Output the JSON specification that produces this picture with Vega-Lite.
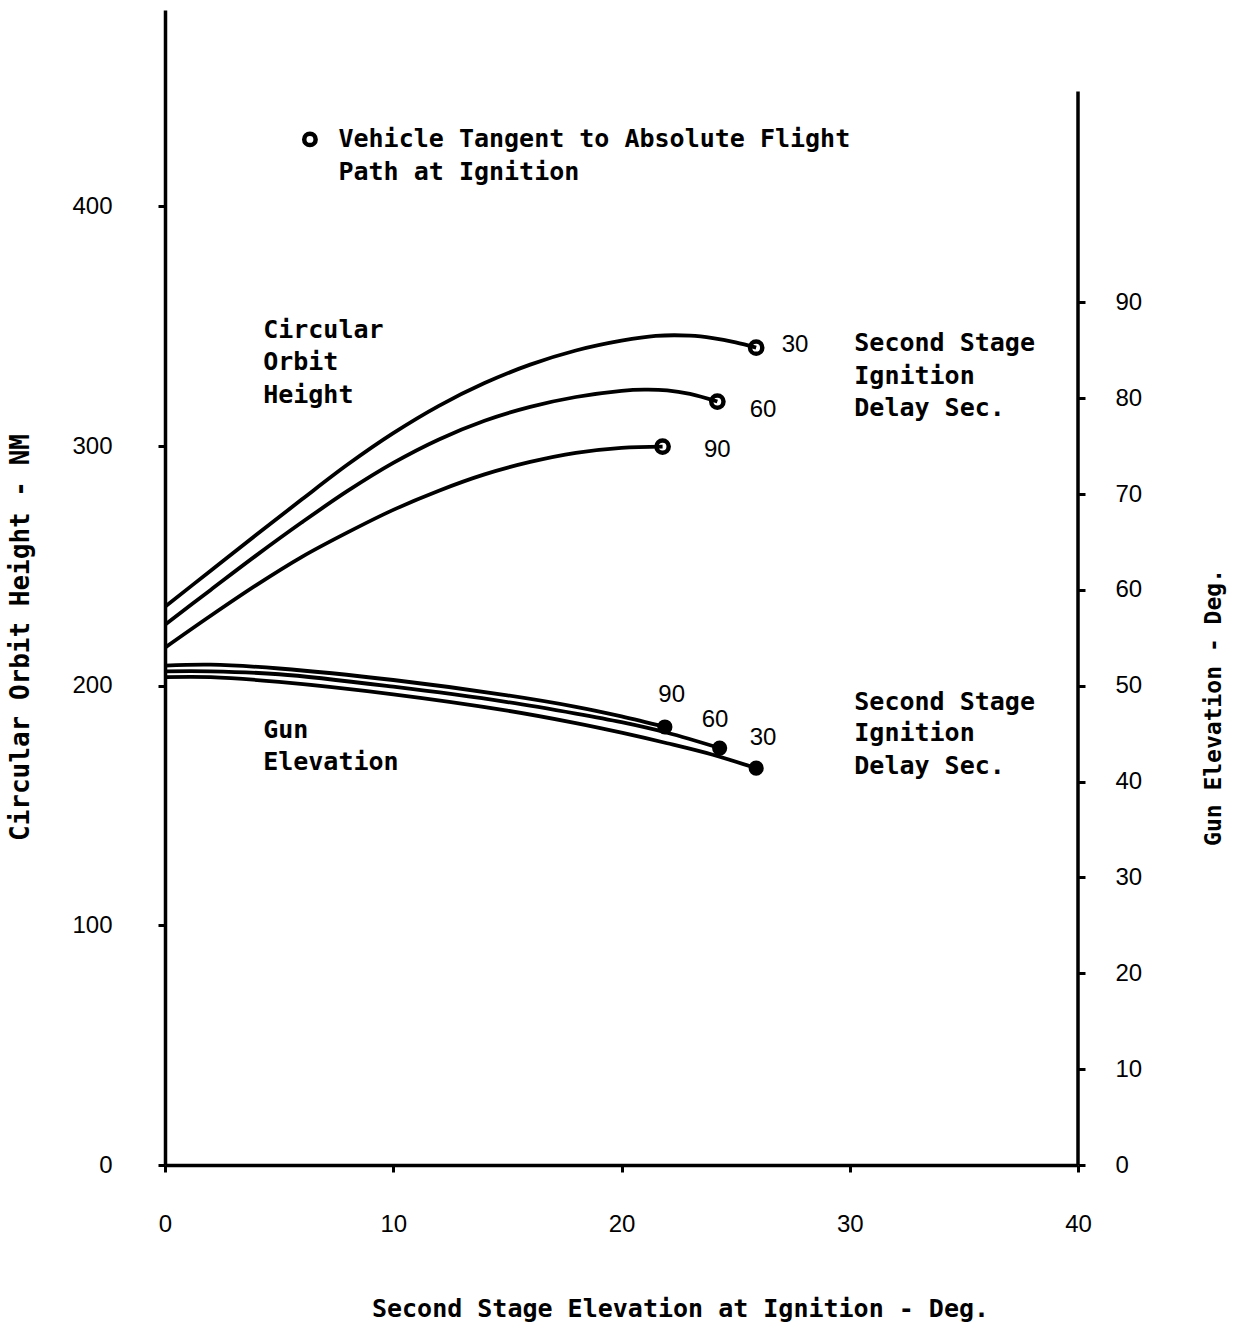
{
  "$schema": "https://vega.github.io/schema/vega-lite/v6.json",
  "width": 913,
  "height": 1155,
  "autosize": "none",
  "padding": {"left": 165, "top": 10, "right": 157, "bottom": 162},
  "background": "white",
  "config": {"view": {"stroke": null}},
  "datasets": {
    "orbit": [
      {"x": 0, "nm": 233.0, "delay": "30"}, {"x": 2, "nm": 248.0, "delay": "30"}, {"x": 4, "nm": 263.0, "delay": "30"}, {"x": 6, "nm": 277.8, "delay": "30"}, {"x": 8, "nm": 292.3, "delay": "30"}, {"x": 10, "nm": 305.4, "delay": "30"}, {"x": 12, "nm": 316.8, "delay": "30"}, {"x": 14, "nm": 326.3, "delay": "30"}, {"x": 16, "nm": 334.0, "delay": "30"}, {"x": 18, "nm": 339.9, "delay": "30"}, {"x": 20, "nm": 344.0, "delay": "30"}, {"x": 21.5, "nm": 346.0, "delay": "30"}, {"x": 23, "nm": 346.1, "delay": "30"}, {"x": 24, "nm": 345.1, "delay": "30"}, {"x": 25, "nm": 343.3, "delay": "30"}, {"x": 25.9, "nm": 341.1, "delay": "30"},
      {"x": 0, "nm": 225.5, "delay": "60"}, {"x": 2, "nm": 240.0, "delay": "60"}, {"x": 4, "nm": 254.4, "delay": "60"}, {"x": 6, "nm": 268.2, "delay": "60"}, {"x": 8, "nm": 281.3, "delay": "60"}, {"x": 10, "nm": 293.0, "delay": "60"}, {"x": 12, "nm": 302.8, "delay": "60"}, {"x": 14, "nm": 310.6, "delay": "60"}, {"x": 16, "nm": 316.4, "delay": "60"}, {"x": 18, "nm": 320.5, "delay": "60"}, {"x": 20, "nm": 323.1, "delay": "60"}, {"x": 21, "nm": 323.6, "delay": "60"}, {"x": 22, "nm": 323.3, "delay": "60"}, {"x": 23, "nm": 321.8, "delay": "60"}, {"x": 24.2, "nm": 318.6, "delay": "60"},
      {"x": 0, "nm": 215.9, "delay": "90"}, {"x": 2, "nm": 229.2, "delay": "90"}, {"x": 4, "nm": 242.0, "delay": "90"}, {"x": 6, "nm": 253.8, "delay": "90"}, {"x": 8, "nm": 264.0, "delay": "90"}, {"x": 10, "nm": 273.4, "delay": "90"}, {"x": 12, "nm": 281.4, "delay": "90"}, {"x": 14, "nm": 288.2, "delay": "90"}, {"x": 16, "nm": 293.4, "delay": "90"}, {"x": 18, "nm": 297.2, "delay": "90"}, {"x": 20, "nm": 299.3, "delay": "90"}, {"x": 21.8, "nm": 299.8, "delay": "90"}
    ],
    "orbitEnd": [
      {"x": 25.9, "nm": 341.1, "delay": "30"},
      {"x": 24.2, "nm": 318.6, "delay": "60"},
      {"x": 21.8, "nm": 299.8, "delay": "90"}
    ],
    "orbitLabels": [
      {"x": 27.6, "nm": 342.4, "label": "30"},
      {"x": 26.2, "nm": 315.2, "label": "60"},
      {"x": 24.2, "nm": 298.5, "label": "90"}
    ],
    "gun": [
      {"x": 0, "deg": 52.1, "delay": "90"}, {"x": 2, "deg": 52.2, "delay": "90"}, {"x": 5, "deg": 51.8, "delay": "90"}, {"x": 10, "deg": 50.6, "delay": "90"}, {"x": 15, "deg": 49.0, "delay": "90"}, {"x": 18, "deg": 47.8, "delay": "90"}, {"x": 20, "deg": 46.8, "delay": "90"}, {"x": 21.9, "deg": 45.7, "delay": "90"},
      {"x": 0, "deg": 51.5, "delay": "60"}, {"x": 2, "deg": 51.5, "delay": "60"}, {"x": 5, "deg": 51.2, "delay": "60"}, {"x": 10, "deg": 49.9, "delay": "60"}, {"x": 15, "deg": 48.3, "delay": "60"}, {"x": 18, "deg": 47.1, "delay": "60"}, {"x": 20, "deg": 46.2, "delay": "60"}, {"x": 22, "deg": 45.1, "delay": "60"}, {"x": 24.3, "deg": 43.5, "delay": "60"},
      {"x": 0, "deg": 50.9, "delay": "30"}, {"x": 2, "deg": 50.9, "delay": "30"}, {"x": 5, "deg": 50.4, "delay": "30"}, {"x": 10, "deg": 49.1, "delay": "30"}, {"x": 15, "deg": 47.4, "delay": "30"}, {"x": 18, "deg": 46.1, "delay": "30"}, {"x": 20, "deg": 45.1, "delay": "30"}, {"x": 22, "deg": 44.0, "delay": "30"}, {"x": 24, "deg": 42.8, "delay": "30"}, {"x": 25.9, "deg": 41.4, "delay": "30"}
    ],
    "gunEnd": [
      {"x": 21.9, "deg": 45.7, "delay": "90"},
      {"x": 24.3, "deg": 43.5, "delay": "60"},
      {"x": 25.9, "deg": 41.4, "delay": "30"}
    ],
    "gunLabels": [
      {"x": 22.2, "deg": 49.0, "label": "90"},
      {"x": 24.1, "deg": 46.4, "label": "60"},
      {"x": 26.2, "deg": 44.5, "label": "30"}
    ],
    "rightAxis": [
      {"x": 40, "deg": 0, "deg2": 112}
    ],
    "notes": [
      {"x": 4.3, "nm": 348.6, "text": "Circular"},
      {"x": 4.3, "nm": 334.9, "text": "Orbit"},
      {"x": 4.3, "nm": 321.5, "text": "Height"},
      {"x": 4.3, "nm": 181.6, "text": "Gun"},
      {"x": 4.3, "nm": 168.3, "text": "Elevation"},
      {"x": 30.2, "nm": 343.2, "text": "Second Stage"},
      {"x": 30.2, "nm": 329.4, "text": "Ignition"},
      {"x": 30.2, "nm": 316.1, "text": "Delay Sec."},
      {"x": 30.2, "nm": 193.3, "text": "Second Stage"},
      {"x": 30.2, "nm": 180.4, "text": "Ignition"},
      {"x": 30.2, "nm": 166.6, "text": "Delay Sec."},
      {"x": 7.6, "nm": 428.0, "text": "Vehicle Tangent to Absolute Flight"},
      {"x": 7.6, "nm": 414.6, "text": "Path at Ignition"}
    ],
    "legendMark": [
      {"x": 6.35, "nm": 428.0}
    ]
  },
  "layer": [
    {
      "encoding": {
        "x": {
          "field": "x", "type": "quantitative",
          "scale": {"domain": [0, 40], "nice": false},
          "axis": {
            "values": [0, 10, 20, 30, 40], "grid": false,
            "title": "Second Stage Elevation at Ignition - Deg.",
            "titleFont": "DejaVu Sans Mono", "titleFontSize": 25, "titleFontWeight": "bold", "titleColor": "black",
            "titleX": 515, "titleY": 143, "titleBaseline": "middle", "titleAlign": "center",
            "labelFont": "Liberation Sans", "labelFontSize": 24, "labelColor": "black", "labelPadding": 40,
            "labelFlush": false,
            "domainColor": "black", "domainWidth": 3.5, "tickColor": "black", "tickWidth": 3, "tickSize": 7
          }
        },
        "y": {
          "field": "nm", "type": "quantitative",
          "scale": {"domain": [0, 482], "nice": false},
          "axis": {
            "orient": "left", "values": [0, 100, 200, 300, 400], "grid": false,
            "title": "Circular Orbit Height - NM",
            "titleFont": "DejaVu Sans Mono", "titleFontSize": 26, "titleFontWeight": "bold", "titleColor": "black",
            "titleAngle": 270, "titleX": -145, "titleY": 627, "titleBaseline": "middle", "titleAlign": "center",
            "labelFont": "Liberation Sans", "labelFontSize": 24, "labelColor": "black", "labelPadding": 46,
            "labelFlush": false,
            "domainColor": "black", "domainWidth": 3.5, "tickColor": "black", "tickWidth": 3, "tickSize": 7
          }
        }
      },
      "layer": [
        {
          "data": {"name": "orbit"},
          "mark": {"type": "line", "interpolate": "catmull-rom", "color": "black", "strokeWidth": 3.8},
          "encoding": {"detail": {"field": "delay"}}
        },
        {
          "data": {"name": "orbitEnd"},
          "mark": {"type": "point", "shape": "circle", "filled": false, "color": "black", "strokeWidth": 4.5, "size": 150, "opacity": 1}
        },
        {
          "data": {"name": "orbitLabels"},
          "mark": {"type": "text", "font": "Liberation Sans", "fontSize": 24, "color": "black", "align": "center", "baseline": "middle"},
          "encoding": {"text": {"field": "label"}}
        },
        {
          "data": {"name": "notes"},
          "mark": {"type": "text", "font": "DejaVu Sans Mono", "fontSize": 25, "fontWeight": "bold", "color": "black", "align": "left", "baseline": "middle"},
          "encoding": {"text": {"field": "text"}}
        },
        {
          "data": {"name": "legendMark"},
          "mark": {"type": "point", "shape": "circle", "filled": false, "color": "black", "strokeWidth": 4.5, "size": 130, "opacity": 1}
        }
      ]
    },
    {
      "encoding": {
        "x": {
          "field": "x", "type": "quantitative",
          "scale": {"domain": [0, 40], "nice": false},
          "axis": {
            "values": [0, 10, 20, 30, 40], "grid": false,
            "title": "Second Stage Elevation at Ignition - Deg.",
            "titleFont": "DejaVu Sans Mono", "titleFontSize": 25, "titleFontWeight": "bold", "titleColor": "black",
            "titleX": 515, "titleY": 143, "titleBaseline": "middle", "titleAlign": "center",
            "labelFont": "Liberation Sans", "labelFontSize": 24, "labelColor": "black", "labelPadding": 40,
            "labelFlush": false,
            "domainColor": "black", "domainWidth": 3.5, "tickColor": "black", "tickWidth": 3, "tickSize": 7
          }
        },
        "y": {
          "field": "deg", "type": "quantitative",
          "scale": {"domain": [0, 120.5], "nice": false},
          "axis": {
            "orient": "right", "values": [0, 10, 20, 30, 40, 50, 60, 70, 80, 90], "grid": false,
            "domain": false,
            "title": "Gun Elevation - Deg.",
            "titleFont": "DejaVu Sans Mono", "titleFontSize": 23, "titleFontWeight": "bold", "titleColor": "black",
            "titleAngle": 270, "titleX": 135, "titleY": 697, "titleBaseline": "middle", "titleAlign": "center",
            "labelFont": "Liberation Sans", "labelFontSize": 24, "labelColor": "black", "labelPadding": 30,
            "labelFlush": false,
            "tickColor": "black", "tickWidth": 3, "tickSize": 7
          }
        }
      },
      "layer": [
        {
          "data": {"name": "rightAxis"},
          "mark": {"type": "rule", "color": "black", "strokeWidth": 3.5},
          "encoding": {"y2": {"field": "deg2"}}
        },
        {
          "data": {"name": "gun"},
          "mark": {"type": "line", "interpolate": "catmull-rom", "color": "black", "strokeWidth": 3.8},
          "encoding": {"detail": {"field": "delay"}}
        },
        {
          "data": {"name": "gunEnd"},
          "mark": {"type": "point", "shape": "circle", "filled": true, "color": "black", "size": 230, "opacity": 1}
        },
        {
          "data": {"name": "gunLabels"},
          "mark": {"type": "text", "font": "Liberation Sans", "fontSize": 24, "color": "black", "align": "center", "baseline": "middle"},
          "encoding": {"text": {"field": "label"}}
        }
      ]
    }
  ],
  "resolve": {"scale": {"y": "independent"}, "axis": {"y": "independent"}}
}
